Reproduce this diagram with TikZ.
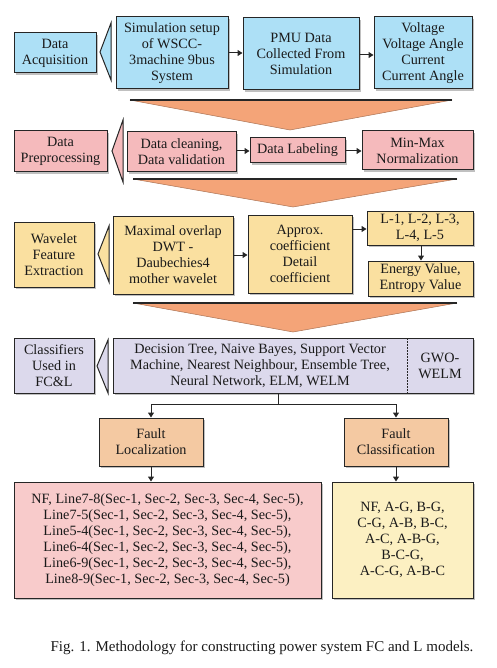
\documentclass[tikz,border=0pt]{standalone}
\usepackage{fontspec}
\setmainfont{Liberation Serif}
\usetikzlibrary{arrows.meta,shadows}
\definecolor{cblue}{HTML}{ADE0F6}
\definecolor{cpink}{HTML}{F5BABC}
\definecolor{cyell}{HTML}{FAE0A0}
\definecolor{clav}{HTML}{DCD9EC}
\definecolor{cpeach}{HTML}{F4C9A2}
\definecolor{cpink2}{HTML}{F8CBCB}
\definecolor{cyell2}{HTML}{FCF0C2}
\definecolor{corange}{HTML}{F4A478}
\definecolor{txt}{HTML}{1A1A1A}
\tikzset{
  box/.style={draw=black!85, line width=1pt, align=center, inner sep=0pt,
    text=txt, font=\fontsize{14.2}{16}\selectfont,
    drop shadow={shadow xshift=2pt, shadow yshift=-2pt, opacity=0.35, fill=black!70}},
  plaintext/.style={align=center, text=txt, inner sep=0pt, font=\fontsize{14.2}{16}\selectfont},
  chev/.style={draw=black!85, line width=1pt, line join=miter},
  funnel/.style={fill=corange, draw=corange!70!black, line width=0.5pt},
  conn/.style={draw=black!85, line width=1pt, -{Triangle[length=5pt,width=6pt]}},
  wire/.style={draw=black!85, line width=1pt}
}
\begin{document}
\begin{tikzpicture}[x=1pt,y=-1pt]
\useasboundingbox[fill=white] (0,0) rectangle (496,668);

% funnels
\fill[funnel] (130,100) -- (452,100) -- (290,130) -- cycle;
\draw[black!85,line width=1.2pt] (130,100) -- (452,100);
\fill[funnel] (133,179) -- (457,179) -- (293,207) -- cycle;
\draw[black!85,line width=1.2pt] (133,179) -- (457,179);
\fill[funnel] (133,303) -- (457,303) -- (293,332) -- cycle;
\draw[black!85,line width=1.2pt] (133,303) -- (457,303);

% Row 1
\node[box, fill=cblue, minimum width=82, minimum height=40] (acq) at (55,53) {Data\\Acquisition};
\filldraw[chev, fill=cblue] (111,23) -- (100,52) -- (111,80) -- cycle;
\node[box, fill=cblue, minimum width=112, minimum height=72] (sim) at (172,53) {Simulation setup\\of WSCC-\\3machine 9bus\\System};
\node[box, fill=cblue, minimum width=116, minimum height=72] (pmu) at (301,54) {PMU Data\\Collected From\\Simulation};
\node[box, fill=cblue, minimum width=98, minimum height=72] (volt) at (423,53) {Voltage\\Voltage Angle\\Current\\Current Angle};
\draw[conn] (sim.east |- 0,53) -- (pmu.west |- 0,53);
\draw[conn] (pmu.east |- 0,55) -- (volt.west |- 0,55);

% Row 2
\node[box, fill=cpink, minimum width=93, minimum height=41] (prep) at (60.5,151.5) {Data\\Preprocessing};
\filldraw[chev, fill=cpink] (123,120) -- (112,151) -- (123,182) -- cycle;
\node[box, fill=cpink, minimum width=109, minimum height=40] (clean) at (181.5,152) {Data cleaning,\\Data validation};
\node[box, fill=cpink, minimum width=95, minimum height=25] (lab) at (297.5,150.5) {Data Labeling};
\node[box, fill=cpink, minimum width=111, minimum height=39] (mm) at (417.5,150.5) {Min-Max\\Normalization};
\draw[conn] (clean.east |- 0,151) -- (lab.west |- 0,151);
\draw[conn] (lab.east |- 0,151) -- (mm.west |- 0,151);

% Row 3
\node[box, fill=cyell, minimum width=80, minimum height=65] (wav) at (54,254.5) {Wavelet\\Feature\\Extraction};
\filldraw[chev, fill=cyell] (109,226) -- (98,254) -- (109,282) -- cycle;
\node[box, fill=cyell, minimum width=120, minimum height=78] (mod) at (173,255) {Maximal overlap\\DWT -\\Daubechies4\\mother wavelet};
\node[box, fill=cyell, minimum width=104, minimum height=78] (apx) at (300,254) {Approx.\\coefficient\\Detail\\coefficient};
\node[box, fill=cyell, minimum width=106, minimum height=34] (lev) at (420,228) {L-1, L-2, L-3,\\L-4, L-5};
\node[box, fill=cyell, minimum width=105, minimum height=35] (en) at (420.5,278.5) {Energy Value,\\Entropy Value};
\draw[conn] (mod.east |- 0,255) -- (apx.west |- 0,255);
\draw[conn] (apx.east |- 0,229) -- (lev.west |- 0,229);
\draw[conn] (lev.south -| 421,0) -- (en.north -| 421,0);

% Row 4
\node[box, fill=clav, minimum width=80, minimum height=55] (cls) at (54,365.5) {Classifiers\\Used in\\FC\&L};
\filldraw[chev, fill=clav] (108,340) -- (97,366) -- (108,393) -- cycle;
\node[box, fill=clav, minimum width=360, minimum height=55] (big) at (293,365.5) {};
\node[plaintext] (bigtxt) at (260,365.5) {Decision Tree, Naive Bayes, Support Vector\\Machine, Nearest Neighbour, Ensemble Tree,\\Neural Network, ELM, WELM};
\node[plaintext] (gwo) at (440,365.5) {GWO-\\WELM};
\coordinate (dtop) at (407,338);
\coordinate (dbot) at (407,393);
\draw[black!85, line width=1pt, dash pattern=on 1.5pt off 1.5pt] (dtop) -- (dbot);

% Row 5 faults
\node[box, fill=cpeach, minimum width=104, minimum height=48] (loc) at (151,442) {Fault\\Localization};
\node[box, fill=cpeach, minimum width=104, minimum height=48] (fcl) at (396,442) {Fault\\Classification};
\coordinate (split) at (278,404);
\draw[wire] (big.south -| split) -- (split);
\draw[conn] (split) -| (loc.north);
\draw[conn] (split) -| (fcl.north);

% Row 6
\node[box, fill=cpink2, minimum width=307, minimum height=116] (lloc) at (167.5,540) {NF, Line7-8(Sec-1, Sec-2, Sec-3, Sec-4, Sec-5),\\Line7-5(Sec-1, Sec-2, Sec-3, Sec-4, Sec-5),\\Line5-4(Sec-1, Sec-2, Sec-3, Sec-4, Sec-5),\\Line6-4(Sec-1, Sec-2, Sec-3, Sec-4, Sec-5),\\Line6-9(Sec-1, Sec-2, Sec-3, Sec-4, Sec-5),\\Line8-9(Sec-1, Sec-2, Sec-3, Sec-4, Sec-5)};
\node[box, fill=cyell2, minimum width=141, minimum height=116] (lcls) at (402.5,540) {NF, A-G, B-G,\\C-G, A-B, B-C,\\A-C, A-B-G,\\B-C-G,\\A-C-G, A-B-C};
\draw[conn] (loc.south) -- (loc.south |- lloc.north);
\draw[conn] (fcl.south) -- (fcl.south |- lcls.north);

% Caption
\node[text=txt, inner sep=0pt, font=\fontsize{15}{18}\selectfont] (cap) at (262,648) {Fig. 1. Methodology for constructing power system FC and L models.};
\end{tikzpicture}
\end{document}
